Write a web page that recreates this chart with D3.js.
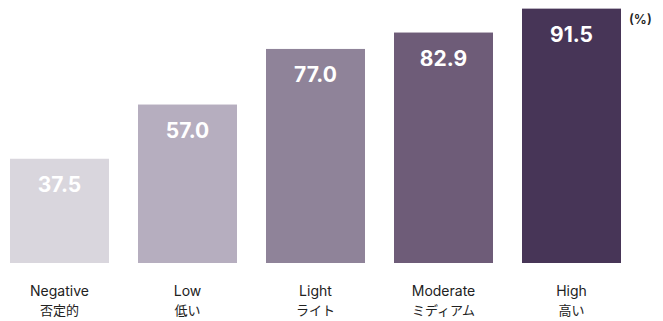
<!DOCTYPE html>
<html><head><meta charset="utf-8">
<script src="https://cdn.jsdelivr.net/npm/d3@7/dist/d3.min.js"></script>
<style>body{margin:0;background:#fff}svg{display:block}</style>
</head><body>
<svg id="c" width="663" height="321"></svg>
<script>
const categories = ["Negative","Low","Light","Moderate","High"];
const categoriesJa = ["否定的","低い","ライト","ミディアム","高い"];
const values = [37.5, 57.0, 77.0, 82.9, 91.5];
const colors = ["#d9d6dd","#b6aebf","#8f8399","#6e5c78","#473557"];
const unitLabel = "(%)";

const svg = d3.select("#c");
const x = d3.scaleBand().domain(categories).range([10, 621]).paddingInner(0.2266).paddingOuter(0);
const y = d3.scaleLinear().domain([0, 100]).range([263, -15]);

svg.selectAll("rect.bar").data(values).join("rect")
  .attr("x", (d,i)=>x(categories[i]))
  .attr("y", d=>y(d))
  .attr("width", x.bandwidth())
  .attr("height", d=>y(0)-y(d))
  .attr("fill", (d,i)=>colors[i]);

svg.selectAll("text.val").data(values).join("text")
  .attr("x", (d,i)=>x(categories[i])+x.bandwidth()/2)
  .attr("y", d=>y(d)+33)
  .attr("text-anchor","middle")
  .attr("fill","#fff")
  .attr("font-family","Inter, 'Noto Sans', sans-serif")
  .attr("font-weight","700")
  .attr("font-size","21px")
  .text(d=>d.toFixed(1));

const g = svg.append("g").attr("font-family","Inter, 'Noto Sans CJK JP', sans-serif").attr("fill","#222");
categories.forEach((c,i)=>{
  const cx = x(c)+x.bandwidth()/2;
  g.append("text").attr("x",cx).attr("y",296).attr("text-anchor","middle")
    .attr("font-size","14px").attr("fill","#222").text(c);
  g.append("text").attr("x",cx).attr("y",315).attr("text-anchor","middle")
    .attr("font-family","'Noto Sans CJK JP', sans-serif")
    .attr("font-size","13px").attr("fill","#222").text(categoriesJa[i]);
});

svg.append("text").attr("x",629).attr("y",24)
  .attr("font-family","Inter, sans-serif").attr("font-size","13px").attr("font-weight","600")
  .attr("fill","#222").text(unitLabel);
</script>
</body></html>
